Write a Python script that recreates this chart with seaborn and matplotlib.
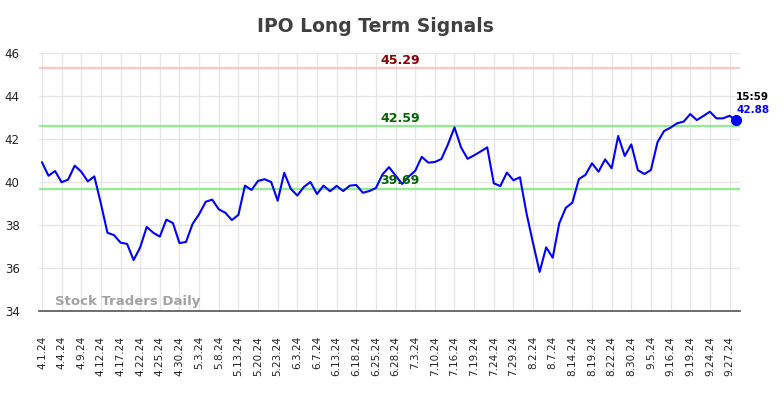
import matplotlib
matplotlib.use("Agg")
import matplotlib.pyplot as plt
import seaborn as sns
import pandas as pd
import numpy as np

# ---- data ----
tick_labels = ["4.1.24", "4.4.24", "4.9.24", "4.12.24", "4.17.24", "4.22.24", "4.25.24",
               "4.30.24", "5.3.24", "5.8.24", "5.13.24", "5.20.24", "5.23.24", "6.3.24",
               "6.7.24", "6.13.24", "6.18.24", "6.25.24", "6.28.24", "7.3.24", "7.10.24",
               "7.16.24", "7.19.24", "7.24.24", "7.29.24", "8.2.24", "8.7.24", "8.14.24",
               "8.19.24", "8.22.24", "8.30.24", "9.5.24", "9.16.24", "9.19.24", "9.24.24",
               "9.27.24"]
prices = [40.92, 40.29, 40.51, 39.99, 40.11, 40.76, 40.48, 40.03, 40.26, 39.00,
          37.64, 37.53, 37.18, 37.12, 36.37, 36.96, 37.91, 37.64, 37.46, 38.25,
          38.09, 37.16, 37.21, 38.05, 38.50, 39.08, 39.18, 38.73, 38.57, 38.23,
          38.47, 39.83, 39.63, 40.05, 40.13, 40.00, 39.13, 40.43, 39.68, 39.37,
          39.77, 40.00, 39.44, 39.83, 39.57, 39.82, 39.58, 39.83, 39.86, 39.50,
          39.58, 39.72, 40.35, 40.69, 40.30, 39.91, 40.25, 40.52, 41.17, 40.90,
          40.93, 41.07, 41.75, 42.54, 41.61, 41.08, 41.24, 41.42, 41.61, 39.94,
          39.81, 40.44, 40.08, 40.22, 38.54, 37.15, 35.82, 36.96, 36.48, 38.08,
          38.80, 39.04, 40.14, 40.33, 40.87, 40.48, 41.05, 40.64, 42.14, 41.21,
          41.75, 40.55, 40.37, 40.56, 41.85, 42.37, 42.53, 42.73, 42.81, 43.16,
          42.88, 43.07, 43.27, 42.96, 42.96, 43.08, 42.88]
upper_level = 45.29
mid_level = 42.59
low_level = 39.69
last_time = "15:59"
last_price = 42.88

df = pd.DataFrame({"idx": np.arange(len(prices)), "price": prices})
tick_pos = np.arange(0, len(tick_labels) * 3, 3)

sns.set_style("white")
plt.rcParams['font.family'] = ['DejaVu Sans']

fig = plt.figure(figsize=(7.84, 3.98), dpi=100)
ax = fig.add_axes([39 / 784, 1 - 311 / 398, (740 - 39) / 784, (311 - 53) / 398])

ax.set_xlim(-0.45, 106.6)
ax.set_ylim(34, 46)
ax.set_yticks([34, 36, 38, 40, 42, 44, 46])
ax.set_xticks(tick_pos)
ax.set_xticklabels(tick_labels, rotation=90, fontsize=7.5, color="#222222")
ax.tick_params(axis="y", labelsize=8.5, colors="#222222", length=0, pad=14)
ax.tick_params(axis="x", length=0, pad=18)
ax.grid(True, color="#e6e6e6", linewidth=1)
ax.set_axisbelow(True)
for s in ["top", "right", "left"]:
    ax.spines[s].set_visible(False)
ax.spines["bottom"].set_color("#555555")
ax.spines["bottom"].set_linewidth(1.2)

ax.axhline(upper_level, color="#ffc4c4", linewidth=1.6, zorder=1)
ax.axhline(mid_level, color="#90ee90", linewidth=1.6, zorder=1)
ax.axhline(low_level, color="#90ee90", linewidth=1.6, zorder=1)

sns.lineplot(data=df, x="idx", y="price", ax=ax, color="#0000ff", linewidth=1.5, zorder=3)
ax.set_xlabel("")
ax.set_ylabel("")

ax.plot([df["idx"].iloc[-1]], [last_price], "o", color="#0000ff", markersize=7, zorder=4,
        clip_on=False)

xm = 54.7
ax.text(xm, upper_level + 0.08, f"{upper_level:.2f}", color="#8b0000", fontsize=9,
        fontweight="bold", ha="center", va="bottom")
ax.text(xm, mid_level + 0.08, f"{mid_level:.2f}", color="#006400", fontsize=9,
        fontweight="bold", ha="center", va="bottom")
ax.text(xm, low_level + 0.08, f"{low_level:.2f}", color="#006400", fontsize=9,
        fontweight="bold", ha="center", va="bottom")

ax.text(1.0 * df["idx"].iloc[-1], last_price + 1.07, last_time, color="black", fontsize=7.5,
        fontweight="bold", ha="left", va="center", clip_on=False)
ax.text(1.0 * df["idx"].iloc[-1], last_price + 0.47, f"{last_price:.2f}", color="#0000ff",
        fontsize=7.5, fontweight="bold", ha="left", va="center", clip_on=False)

ax.text(2.0, 34.15, "Stock Traders Daily", color="#999999", fontsize=9.5,
        fontweight="bold", ha="left", va="bottom", alpha=0.9)

fig.text(375 / 784, 1 - 27 / 398, "IPO Long Term Signals", ha="center", va="center",
         fontsize=13.5, fontweight="bold", color="#404040")

fig.savefig("out.png", dpi=100)
